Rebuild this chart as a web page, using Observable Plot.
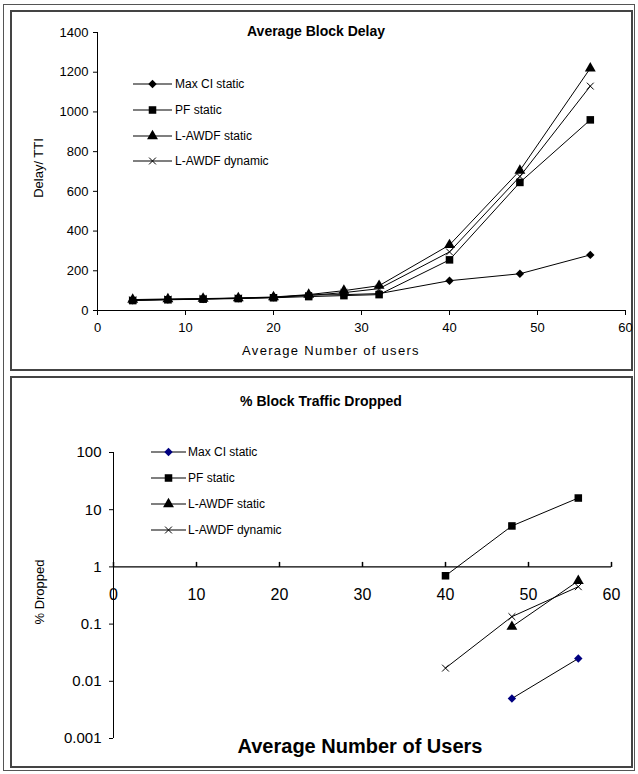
<!DOCTYPE html>
<html>
<head>
<meta charset="utf-8">
<script src="https://cdn.jsdelivr.net/npm/d3@7"></script>
<script src="https://cdn.jsdelivr.net/npm/@observablehq/plot@0.6"></script>
<style>
  html, body { margin: 0; padding: 0; background: #fff; }
  body { width: 638px; height: 774px; position: relative; overflow: hidden; font-family: "Liberation Sans", Arial, sans-serif; color: #000; }
  .box { position: absolute; box-sizing: border-box; }
  #outer { left: 3px; top: 4px; width: 632px; height: 767px; border: 1px solid #555; }
  #panelTop { left: 10px; top: 10px; width: 623px; height: 361px; border: 2px solid #444; }
  #panelBot { left: 10px; top: 376px; width: 623px; height: 392px; border: 2px solid #444; }
  .abs { position: absolute; }
  .txt { position: absolute; white-space: nowrap; }
</style>
</head>
<body>
<div id="outer" class="box"></div>
<div id="panelTop" class="box"></div>
<div id="panelBot" class="box"></div>
<div id="chartTop" class="abs" style="left:0;top:0"></div>
<div id="chartBot" class="abs" style="left:0;top:376px"></div>
<div class="txt" style="left:0;width:632px;top:23px;text-align:center;font-weight:bold;font-size:14px;">Average Block Delay</div>
<div class="txt" style="left:0;width:642px;top:393px;text-align:center;font-weight:bold;font-size:14px;">% Block Traffic Dropped</div>
<div class="txt" style="left:0;width:662px;top:343px;text-align:center;font-size:13px;letter-spacing:1.3px;">Average Number of users</div>
<div class="txt" style="left:0;width:720px;top:735px;text-align:center;font-weight:bold;font-size:20px;">Average Number of Users</div>
<div class="txt" style="left:38px;top:168px;transform:translate(-50%,-50%) rotate(-90deg);font-size:13px;">Delay/ TTI</div>
<div class="txt" style="left:39px;top:592px;transform:translate(-50%,-50%) rotate(-90deg);font-size:13px;">% Dropped</div>
<svg id="legendTop" class="abs" style="left:0;top:0" width="638" height="372"></svg>
<svg id="legendBot" class="abs" style="left:0;top:376px" width="638" height="392"></svg>
<script>
// ---------- data ----------
const seriesNames = ["Max CI static", "PF static", "L-AWDF static", "L-AWDF dynamic"];

// Top chart: Average Block Delay (Delay / TTI)
const usersDelay     = [4, 8, 12, 16, 20, 24, 28, 32, 40, 48, 56];
const delayMaxCI     = [52, 55, 58, 62, 66, 78, 80, 85, 150, 185, 280];
const delayPF        = [50, 54, 57, 60, 64, 70, 75, 80, 255, 645, 960];
const delayLStatic   = [55, 58, 60, 63, 68, 80, 100, 125, 330, 705, 1220];
const delayLDynamic  = [53, 56, 59, 62, 66, 76, 90, 110, 295, 675, 1130];

// Bottom chart: % Block Traffic Dropped (log scale)
const dropUsersMaxCI    = [48, 56];
const dropMaxCI         = [0.005, 0.025];
const dropUsersPF       = [40, 48, 56];
const dropPF            = [0.7, 5.2, 16];
const dropUsersLStatic  = [48, 56];
const dropLStatic       = [0.09, 0.57];
const dropUsersLDynamic = [40, 48, 56];
const dropLDynamic      = [0.017, 0.135, 0.45];

// Axes
const xTicks = [0, 10, 20, 30, 40, 50, 60];
const delayTicks = [0, 200, 400, 600, 800, 1000, 1200, 1400];
const dropTicks = [0.001, 0.01, 0.1, 1, 10, 100];
const dropTickLabels = ["0.001", "0.01", "0.1", "1", "10", "100"];

// ---------- tables ----------
const delayValues = [delayMaxCI, delayPF, delayLStatic, delayLDynamic];
const delayRows = seriesNames.flatMap((s, k) => usersDelay.map((u, i) => ({series: s, x: u, y: delayValues[k][i]})));
const dropX = [dropUsersMaxCI, dropUsersPF, dropUsersLStatic, dropUsersLDynamic];
const dropY = [dropMaxCI, dropPF, dropLStatic, dropLDynamic];
const dropRows = seriesNames.flatMap((s, k) => dropX[k].map((u, i) => ({series: s, x: u, y: dropY[k][i]})));

const symbols = [d3.symbolDiamond2, d3.symbolSquare2, d3.symbolTriangle2, d3.symbolTimes];
const sizes = [3.8, 4.8, 5.2, 3.2];
const fills = ["#000", "#000", "#000", "none"];
const fillsBot = ["#000080", "#000", "#000", "none"];

function dotMarks(rows, fillArr) {
  return seriesNames.map((s, k) => Plot.dot(rows.filter(d => d.series === s), {
    x: "x", y: "y", symbol: symbols[k], r: sizes[k],
    fill: fillArr[k], stroke: fillArr[k] === "none" ? "#000" : "none",
    strokeWidth: 1
  }));
}

const fontStyle = {fontFamily: "'Liberation Sans', Arial, sans-serif", background: "transparent", color: "#000", overflow: "visible"};

// ---------- top chart ----------
const plotTop = Plot.plot({
  width: 638, height: 372,
  marginLeft: 97, marginRight: 13, marginTop: 32, marginBottom: 62,
  style: {...fontStyle, fontSize: "13px"},
  x: {domain: [0, 60], ticks: xTicks, tickSize: 5, tickPadding: 7, label: null, tickFormat: d => String(d)},
  y: {domain: [0, 1400], ticks: delayTicks, tickSize: 4, tickPadding: 5, label: null, tickFormat: d => String(d)},
  marks: [
    Plot.ruleY([0], {stroke: "#000"}),
    Plot.ruleX([0], {stroke: "#000"}),
    Plot.line(delayRows, {x: "x", y: "y", z: "series", stroke: "#000", strokeWidth: 1}),
    ...dotMarks(delayRows, fills)
  ]
});
document.getElementById("chartTop").appendChild(plotTop);

// ---------- bottom chart ----------
const tickUp = { draw(ctx) { ctx.moveTo(0, 0); ctx.lineTo(0, -5); } };
const plotBot = Plot.plot({
  width: 638, height: 392,
  marginLeft: 113, marginRight: 27, marginTop: 76, marginBottom: 30,
  style: {...fontStyle, fontSize: "15px"},
  x: {domain: [0, 60], axis: null},
  y: {type: "log", domain: [0.001, 100], ticks: dropTicks, tickSize: 4, tickPadding: 8, label: null,
      tickFormat: d => dropTickLabels[dropTicks.findIndex(t => Math.abs(t - d) / t < 1e-6)]},
  marks: [
    Plot.ruleX([0], {stroke: "#000"}),
    Plot.ruleY([1], {stroke: "#000", strokeWidth: 1.3}),
    Plot.dot(xTicks, {x: d => d, y: () => 1, symbol: tickUp, stroke: "#000", fill: "none"}),
    Plot.text(xTicks, {x: d => d, y: () => 1, dy: 28, text: d => String(d), fontSize: 16}),
    Plot.line(dropRows, {x: "x", y: "y", z: "series", stroke: "#000", strokeWidth: 1}),
    ...dotMarks(dropRows, fillsBot)
  ]
});
document.getElementById("chartBot").appendChild(plotBot);

// ---------- legends ----------
function legend(svgId, x0, x1, tx, ys, fillArr) {
  const svg = d3.select("#" + svgId);
  seriesNames.forEach((s, k) => {
    const y = ys[k];
    svg.append("line").attr("x1", x0).attr("x2", x1).attr("y1", y).attr("y2", y).attr("stroke", "#000").attr("stroke-width", 1.2);
    const size = Math.PI * sizes[k] * sizes[k];
    svg.append("path").attr("d", d3.symbol(symbols[k], size)())
      .attr("transform", `translate(${(x0 + x1) / 2},${y})`)
      .attr("fill", fillArr[k]).attr("stroke", fillArr[k] === "none" ? "#000" : "none");
    svg.append("text").attr("x", tx).attr("y", y).attr("dy", "0.35em")
      .attr("font-family", "'Liberation Sans', Arial, sans-serif").attr("font-size", 12).text(s);
  });
}
legend("legendTop", 133, 172, 175, [84, 110, 136, 161], fills);
legend("legendBot", 151, 186, 188, [452 - 376, 478 - 376, 504 - 376, 530 - 376], fillsBot);
</script>
</body>
</html>
